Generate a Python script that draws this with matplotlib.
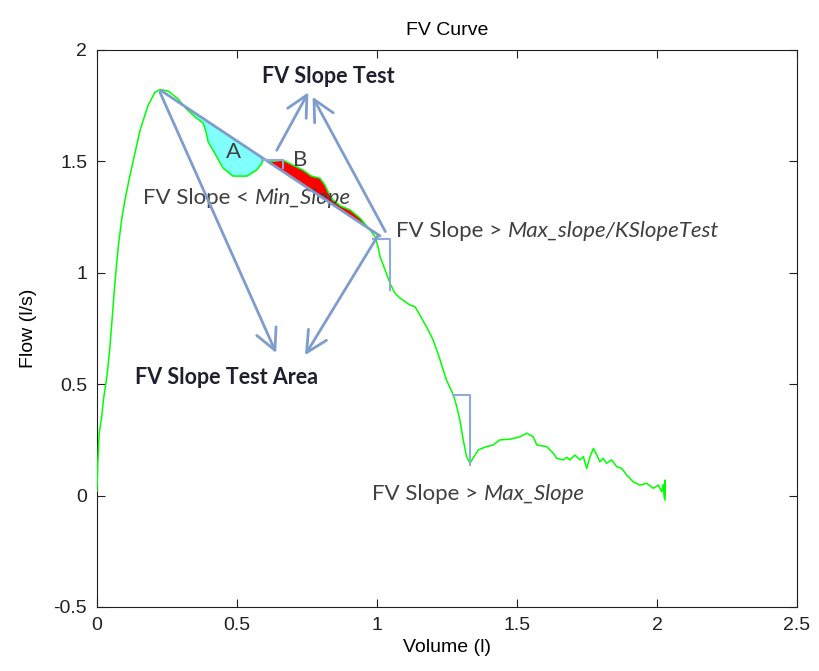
import numpy as np
import matplotlib.pyplot as plt

# FV curve samples (volume in l, flow in l/s)
volume = np.array([0.000, 0.003, 0.008, 0.017, 0.023, 0.035, 0.045, 0.052, 0.064, 0.076,
                   0.088, 0.100, 0.115, 0.129, 0.154, 0.182, 0.207, 0.225, 0.254, 0.290,
                   0.320, 0.350, 0.379, 0.390, 0.397, 0.428, 0.450, 0.486, 0.535, 0.570,
                   0.588, 0.595, 0.618, 0.664, 0.689, 0.736, 0.766, 0.796, 0.814, 0.825,
                   0.843, 0.870, 0.904, 0.939, 0.975, 0.993, 1.003, 1.011, 1.029, 1.046,
                   1.064, 1.082, 1.118, 1.136, 1.159, 1.180, 1.200, 1.220, 1.235, 1.248,
                   1.273, 1.285, 1.296, 1.308, 1.320, 1.332, 1.350, 1.362, 1.391, 1.415,
                   1.439, 1.475, 1.511, 1.535, 1.558, 1.571, 1.606, 1.630, 1.642, 1.666,
                   1.678, 1.689, 1.707, 1.725, 1.737, 1.749, 1.761, 1.773, 1.785, 1.796,
                   1.808, 1.820, 1.838, 1.856, 1.874, 1.892, 1.915, 1.939, 1.963, 1.987,
                   2.005, 2.017, 2.022, 2.026, 2.029, 2.029])
flow = np.array([0.020, 0.150, 0.280, 0.354, 0.430, 0.530, 0.650, 0.758, 0.954, 1.117,
                 1.237, 1.327, 1.420, 1.500, 1.640, 1.750, 1.810, 1.822, 1.816, 1.780,
                 1.735, 1.700, 1.672, 1.630, 1.588, 1.520, 1.470, 1.434, 1.434, 1.461,
                 1.490, 1.510, 1.500, 1.506, 1.490, 1.461, 1.434, 1.425, 1.394, 1.364,
                 1.327, 1.300, 1.282, 1.246, 1.193, 1.162, 1.120, 1.072, 1.013, 0.954,
                 0.909, 0.887, 0.855, 0.848, 0.797, 0.750, 0.700, 0.630, 0.570, 0.519,
                 0.451, 0.399, 0.339, 0.250, 0.175, 0.145, 0.182, 0.205, 0.220, 0.227,
                 0.250, 0.253, 0.264, 0.280, 0.264, 0.227, 0.220, 0.190, 0.167, 0.160,
                 0.172, 0.160, 0.182, 0.160, 0.175, 0.122, 0.175, 0.212, 0.182, 0.152,
                 0.167, 0.145, 0.160, 0.130, 0.122, 0.092, 0.062, 0.047, 0.055, 0.033,
                 0.047, 0.017, 0.050, -0.010, 0.070, -0.020])

# slope test line (from peak)
slope_x = [0.23, 1.01]
slope_y = [1.817, 1.166]

# area A (below line) and area B (above line) ranges
area_a = (0.30, 0.594)
area_b = (0.60, 1.00)

# slope brackets: (x0, x1, y_top, y_bottom)
brackets = [(0.590, 0.664, 1.506, 1.470),
            (0.985, 1.048, 1.150, 0.923),
            (1.273, 1.332, 0.451, 0.137)]

# arrows: (start, end)
arrows = [((0.225, 1.81), (0.64, 0.64)),
          ((1.005, 1.17), (0.743, 0.63)),
          ((0.642, 1.55), (0.755, 1.81)),
          ((1.030, 1.185), (0.770, 1.79))]

fig = plt.figure(figsize=(8.19, 6.71), dpi=100)
ax = fig.add_axes([0.1184, 0.0954, 0.8547, 0.8301])

line_y = np.interp(volume, slope_x, slope_y)
in_a = (volume >= area_a[0]) & (volume <= area_a[1])
in_b = (volume >= area_b[0]) & (volume <= area_b[1])
ax.fill_between(volume, flow, line_y, where=in_a & (flow <= line_y), interpolate=True,
                color='#80FFFF', lw=0)
ax.fill_between(volume, flow, line_y, where=in_b & (flow >= line_y), interpolate=True,
                color='#FF0000', lw=0)

ax.plot(volume, flow, color='#00FF00', lw=1.1, zorder=3)

blue = '#7F9DCC'
ax.plot(slope_x, slope_y, color=blue, lw=2, zorder=4)
for x0, x1, yt, yb in brackets:
    ax.plot([x0, x1, x1], [yt, yt, yb], color='#8EA9DB', lw=1.5, zorder=4)

for (sx, sy), (ex, ey) in arrows:
    ax.annotate('', xy=(ex, ey), xytext=(sx, sy),
                arrowprops=dict(arrowstyle='->,head_length=0.75,head_width=0.38',
                                color=blue, lw=2, mutation_scale=20, shrinkA=0, shrinkB=0),
                zorder=5)

# annotation texts
tfont = 'Lato'
tcol = '#404040'
fs = 16
ax.text(0.589, 1.883, 'FV Slope Test', fontsize=15.5, fontweight='bold', family=tfont,
        color='#1f1f2f', va='center', ha='left')
ax.text(0.136, 0.528, 'FV Slope Test Area', fontsize=15.5, fontweight='bold', family=tfont,
        color='#1f1f2f', va='center', ha='left')
ax.text(0.486, 1.542, 'A', fontsize=fs, family=tfont, color=tcol, va='center', ha='center')
ax.text(0.725, 1.506, 'B', fontsize=fs, family=tfont, color=tcol, va='center', ha='center')


def mixed(x, y, plain, italic):
    t1 = ax.text(x, y, plain, fontsize=fs, family=tfont, color=tcol, va='center', ha='left')
    ax.annotate(italic, xy=(1, 0), xycoords=t1, fontsize=fs, family=tfont, style='italic',
                color=tcol, va='bottom', ha='left')


mixed(0.164, 1.335, 'FV Slope < ', 'Min_Slope')
mixed(1.068, 1.188, 'FV Slope > ', 'Max_slope/KSlopeTest')
mixed(0.982, 0.007, 'FV Slope > ', 'Max_Slope')

ax.set_xlim(0, 2.5)
ax.set_ylim(-0.5, 2)
ax.set_xticks(np.arange(0, 2.51, 0.5))
ax.set_xticklabels(['0', '0.5', '1', '1.5', '2', '2.5'])
ax.set_yticks(np.arange(-0.5, 2.01, 0.5))
ax.set_yticklabels(['-0.5', '0', '0.5', '1', '1.5', '2'])
ax.tick_params(direction='in', length=6, top=True, right=True, labelsize=14, pad=7,
               colors='#202020')
for lab in ax.get_xticklabels() + ax.get_yticklabels():
    lab.set_family('Liberation Sans')
for s in ax.spines.values():
    s.set_color('#202020')

ax.set_title('FV Curve', fontsize=14, family='Liberation Sans', pad=11)
ax.set_xlabel('Volume (l)', fontsize=14, family='Liberation Sans', labelpad=4)
ax.set_ylabel('Flow (l/s)', fontsize=14, family='Liberation Sans', labelpad=12)

fig.savefig('out.png', dpi=100)
